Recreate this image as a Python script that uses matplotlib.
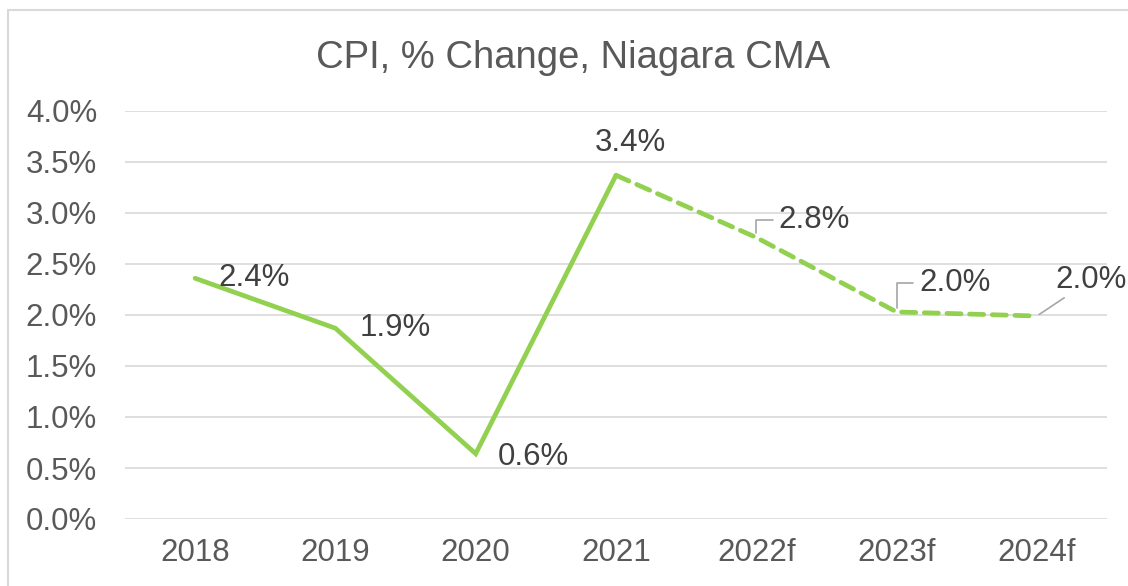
import matplotlib
matplotlib.use("Agg")
import matplotlib.pyplot as plt
from matplotlib.patches import Rectangle

categories = ["2018", "2019", "2020", "2021", "2022f", "2023f", "2024f"]
cpi_change = [2.36, 1.87, 0.64, 3.37, 2.76, 2.03, 1.99]
y_ticks = [0.0, 0.5, 1.0, 1.5, 2.0, 2.5, 3.0, 3.5, 4.0]
title = "CPI, % Change, Niagara CMA"

plt.rcParams['font.family'] = ['Liberation Sans', 'DejaVu Sans']

green = "#92D050"
grid_c = "#D9D9D9"
tick_c = "#595959"
lab_c = "#404040"
fs = 22.5

fig = plt.figure(figsize=(11.28, 5.86), dpi=100)
ax = fig.add_axes([125/1128, 1-519/586, (1107-125)/1128, (519-111)/586])

x = list(range(len(categories)))
ax.plot(x[:4], cpi_change[:4], color=green, lw=3.4, solid_capstyle='round', solid_joinstyle='miter', zorder=3)
ax.plot(x[3:], cpi_change[3:], color=green, lw=3.4, linestyle=(0, (3.0, 1.8)),
        dash_capstyle='round', zorder=3)

ax.set_xlim(-0.5, len(categories) - 0.5)
ax.set_ylim(0, 4.0)
ax.set_yticks(y_ticks)
ax.set_yticklabels([f"{v:.1f}%" for v in y_ticks])
ax.set_xticks(x)
ax.set_xticklabels(categories)
ax.tick_params(axis='both', length=0, colors=tick_c, labelsize=fs)
ax.tick_params(axis='x', pad=14)
ax.tick_params(axis='y', pad=20)
ax.grid(axis='y', color=grid_c, lw=1.2)
ax.set_axisbelow(True)
for s in ax.spines.values():
    s.set_visible(False)

# label offsets in pixels (style only)
offsets = [(59, 0), (60, 0), (58, -3), (14, 32), (58, 17), (58, 29), (54, 36)]
leaders = [None, None, None, None, 'angle', 'angle', 'straight']
for i, (v, off, ld) in enumerate(zip(cpi_change, offsets, leaders)):
    kw = {}
    if ld == 'angle':
        kw['arrowprops'] = dict(arrowstyle='-', color='#A6A6A6', lw=1.2,
                                connectionstyle='angle,angleA=0,angleB=90,rad=0',
                                shrinkA=2, shrinkB=3)
    elif ld == 'straight':
        kw['arrowprops'] = dict(arrowstyle='-', color='#A6A6A6', lw=1.2,
                                shrinkA=0, shrinkB=2)
    ax.annotate(f"{v:.1f}%", xy=(i, v), xytext=off, textcoords='offset pixels',
                ha='center', va='center', fontsize=fs, color=lab_c, zorder=5,
                annotation_clip=False, **kw)

fig.text(573/1128, 1-58/586, title, ha='center', va='center', fontsize=27.5, color=tick_c)

fig.patches.append(Rectangle((8/1128, -0.05), 1.2, 1 - 10/586 + 0.05, transform=fig.transFigure,
                             fill=False, edgecolor=grid_c, lw=1.5))

fig.savefig("out.png", dpi=100)
